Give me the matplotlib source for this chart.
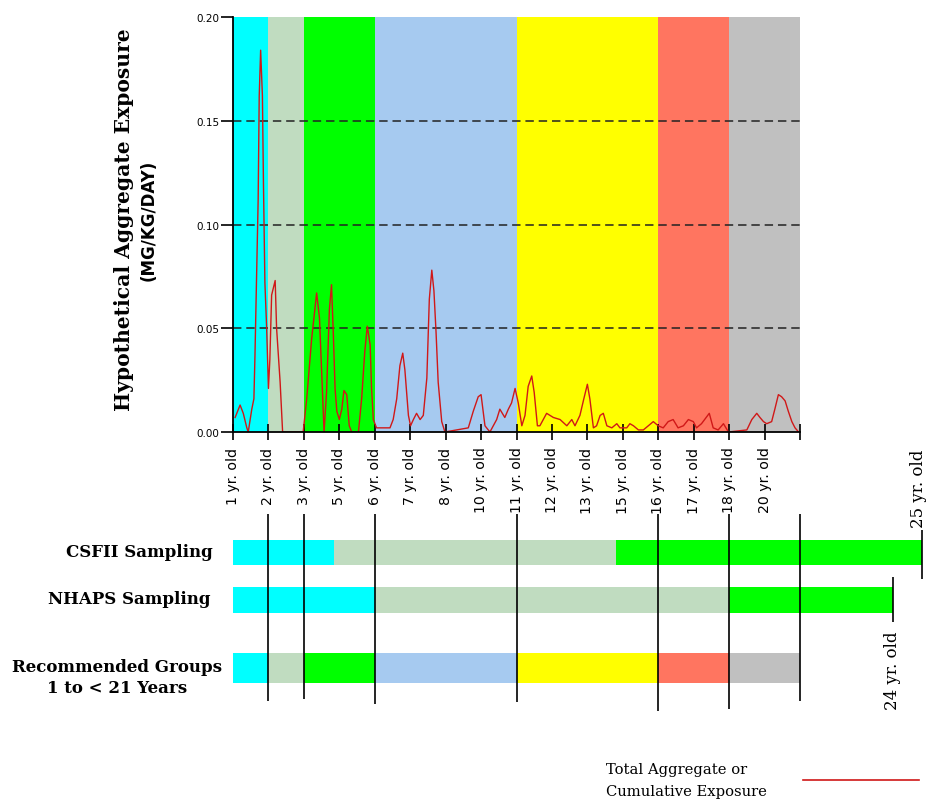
import matplotlib
matplotlib.use("Agg")
from matplotlib import pyplot as plt
from matplotlib.lines import Line2D

# ages on the x axis (one tick per position, last tick unlabeled)
ages = [1, 2, 3, 5, 6, 7, 8, 10, 11, 12, 13, 15, 16, 17, 18, 20]

# recommended age groups (tick positions of the boundaries) and their colours
group_edges = [0, 1, 2, 4, 8, 12, 14, 16]
group_colors = ["#00ffff", "#c0dcc0", "#00ff00", "#a6caf0", "#ffff00", "#ff7560", "#c0c0c0"]

# hypothetical aggregate exposure (mg/kg/day)
exp_x = [0.06, 0.20, 0.29, 0.39, 0.43, 0.53, 0.59, 0.62, 0.67, 0.71, 0.74, 0.78, 0.83,
         0.86, 0.90, 0.95, 1.00, 1.04, 1.09, 1.19, 1.23, 1.33, 1.40, 1.98, 2.08, 2.22,
         2.36, 2.44, 2.50, 2.57, 2.64, 2.72, 2.78, 2.83, 2.88, 2.93, 3.00, 3.07, 3.13,
         3.21, 3.28, 3.35, 3.54, 3.63, 3.72, 3.79, 3.87, 3.91, 3.96, 4.05, 4.43, 4.52,
         4.62, 4.71, 4.79, 4.85, 4.95, 5.01, 5.09, 5.18, 5.28, 5.37, 5.47, 5.54, 5.61,
         5.67, 5.73, 5.79, 5.89, 5.98, 6.64, 6.78, 6.92, 7.00, 7.11, 7.25, 7.44, 7.53,
         7.67, 7.77, 7.86, 7.96, 8.05, 8.15, 8.24, 8.33, 8.43, 8.50, 8.59, 8.66, 8.85,
         9.04, 9.23, 9.42, 9.56, 9.65, 9.79, 9.90, 10.00, 10.07, 10.17, 10.26, 10.36,
         10.45, 10.55, 10.69, 10.83, 10.92, 11.11, 11.20, 11.30, 11.44, 11.58, 11.72,
         11.86, 12.00, 12.14, 12.28, 12.42, 12.56, 12.71, 12.85, 12.99, 13.08, 13.22,
         13.44, 13.55, 13.69, 13.84, 13.98, 14.50, 14.64, 14.78, 14.87, 14.97, 15.06,
         15.20, 15.29, 15.39, 15.48, 15.58, 15.67, 15.77, 15.86, 15.96]
exp_y = [0.007, 0.013, 0.009, 0.002, 0.000, 0.011, 0.016, 0.037, 0.079, 0.112, 0.162, 0.184,
         0.162, 0.119, 0.072, 0.050, 0.021, 0.035, 0.066, 0.073, 0.050, 0.024, 0.000, 0.000,
         0.016, 0.045, 0.067, 0.055, 0.029, 0.000, 0.019, 0.059, 0.071, 0.048, 0.021, 0.010,
         0.006, 0.011, 0.020, 0.018, 0.003, 0.000, 0.000, 0.016, 0.039, 0.051, 0.042, 0.021,
         0.006, 0.002, 0.002, 0.006, 0.016, 0.032, 0.038, 0.030, 0.008, 0.003, 0.006, 0.009,
         0.006, 0.008, 0.026, 0.064, 0.078, 0.068, 0.048, 0.024, 0.005, 0.000, 0.002, 0.010,
         0.017, 0.018, 0.003, 0.000, 0.006, 0.011, 0.007, 0.011, 0.014, 0.021, 0.014, 0.003,
         0.008, 0.022, 0.027, 0.019, 0.003, 0.003, 0.009, 0.007, 0.006, 0.003, 0.006, 0.003,
         0.008, 0.016, 0.023, 0.016, 0.002, 0.003, 0.008, 0.009, 0.003, 0.002, 0.004, 0.002,
         0.002, 0.004, 0.003, 0.001, 0.001, 0.003, 0.005, 0.003, 0.002, 0.005, 0.006, 0.002,
         0.003, 0.006, 0.005, 0.002, 0.004, 0.009, 0.002, 0.001, 0.004, 0.000, 0.001, 0.006,
         0.009, 0.007, 0.005, 0.004, 0.005, 0.011, 0.018, 0.017, 0.015, 0.010, 0.005, 0.002,
         0.000]

# sampling bars below the chart (segment edges in the same x units)
csfii_edges = [-0.1, 2.85, 10.81, 19.44]
csfii_colors = ["#00ffff", "#c0dcc0", "#00ff00"]
nhaps_edges = [-0.1, 4.0, 14.0, 18.62]
nhaps_colors = ["#00ffff", "#c0dcc0", "#00ff00"]
rec_edges = [-0.1, 1, 2, 4, 8, 12, 14, 16]

W, H = 928, 804


def rect(l, t, r, b):
    return [l / W, 1 - b / H, (r - l) / W, (b - t) / H]


fig = plt.figure(figsize=(W / 100, H / 100), dpi=100)

# ---- top chart
ax = fig.add_axes(rect(233, 18, 800, 433))
for i in range(len(group_colors)):
    ax.axvspan(group_edges[i], group_edges[i + 1], color=group_colors[i], lw=0, zorder=0)
for v in [0.05, 0.10, 0.15]:
    ax.axhline(v, color="#222222", lw=1.1, ls=(0, (5.5, 3.2)), zorder=1)
ax.plot(exp_x, exp_y, color="#d01818", lw=1.0, zorder=2)

ax.set_xlim(0, 16)
ax.set_ylim(0, 0.2)
ax.set_yticks([0, 0.05, 0.10, 0.15, 0.20])
ax.set_yticklabels(["%.2f" % v for v in [0, 0.05, 0.10, 0.15, 0.20]], fontsize=7.5)
ax.set_xticks(range(17))
ax.set_xticklabels(["%d yr. old" % a for a in ages] + [""], rotation=90,
                   fontsize=10.2, va="top")
ax.tick_params(axis="x", direction="inout", length=11, width=1.2, pad=5)
ax.tick_params(axis="y", direction="out", length=9, width=1.2, pad=1)
ax.spines["top"].set_visible(False)
ax.spines["right"].set_visible(False)
ax.spines["left"].set_linewidth(1.3)
ax.spines["bottom"].set_linewidth(1.3)

fig.text(124 / W, 1 - 220 / H, "Hypothetical Aggregate Exposure", rotation=90,
         ha="center", va="center", family="DejaVu Serif", weight="bold", fontsize=14.6)
fig.text(149 / W, 1 - 220 / H, "(MG/KG/DAY)", rotation=90, ha="center", va="center",
         family="DejaVu Sans", weight="bold", fontsize=12)

# ---- sampling bars
unit = 567 / 16
axb = fig.add_axes(rect(233, 433, 928, 804))
axb.set_xlim(0, (928 - 233) / unit)
axb.set_ylim(804, 433)
axb.axis("off")

rows = [(553.5, 25, csfii_edges, csfii_colors),
        (601, 26, nhaps_edges, nhaps_colors),
        (669, 30, rec_edges, group_colors)]
for yc, h, edges, cols in rows:
    for i in range(len(cols)):
        axb.barh(yc, edges[i + 1] - edges[i], left=edges[i], height=h,
                 color=cols[i], lw=0, zorder=1)

line_ends = [702, 700, 705, 703, 712, 710, 702]
axb.vlines(group_edges[1:], 515, line_ends, color="black", lw=1.2, zorder=3)

axb.vlines(csfii_edges[-1], 531, 580, color="black", lw=1.2)
axb.vlines(nhaps_edges[-1], 578, 623, color="black", lw=1.2)
axb.text((927 - 233) / unit, 528, "25 yr. old", rotation=90, ha="right", va="bottom",
         family="DejaVu Serif", fontsize=12)
axb.text(nhaps_edges[-1], 632, "24 yr. old", rotation=90, ha="center", va="top",
         family="DejaVu Serif", fontsize=12)

lab = dict(family="DejaVu Serif", weight="bold", fontsize=12)
axb.text((213 - 233) / unit, 553, "CSFII Sampling", ha="right", va="center", **lab)
axb.text((211 - 233) / unit, 600, "NHAPS Sampling", ha="right", va="center", **lab)
axb.text((117 - 233) / unit, 678, "Recommended Groups\n1 to < 21 Years", ha="center",
         va="center", multialignment="center", linespacing=1.3, **lab)

# ---- legend
handle = Line2D([], [], color="#d01818", lw=1.2)
leg = fig.legend([handle], ["Total Aggregate or\nCumulative Exposure"], loc="center right",
                 bbox_to_anchor=(919 / W, 1 - 781 / H), frameon=False, markerfirst=False,
                 handlelength=7.9, handletextpad=2.4, borderpad=0, borderaxespad=0,
                 prop={"family": "DejaVu Serif", "size": 10.6})
leg.get_texts()[0].set_linespacing(1.65)

fig.savefig("out.png", dpi=100)
